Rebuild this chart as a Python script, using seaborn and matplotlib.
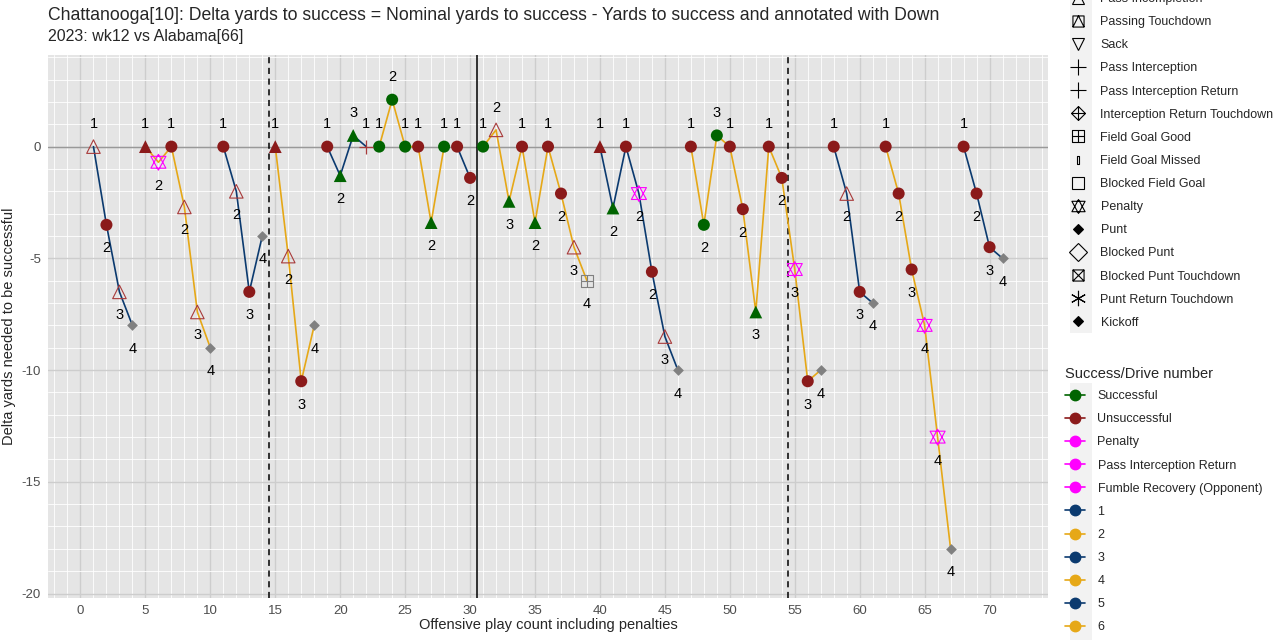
import numpy as np
import pandas as pd
import matplotlib
matplotlib.use("Agg")
import matplotlib.pyplot as plt
from matplotlib.path import Path
from matplotlib.lines import Line2D
from matplotlib.patches import Rectangle
import seaborn as sb

sb.set_style("white")
plt.rcParams["font.family"] = ["Liberation Sans", "DejaVu Sans"]
plt.rcParams["axes.unicode_minus"] = False

# ---- data ----
play = list(range(1, 72))
delta = [0, -3.5, -6.5, -8,
         0, -0.7, 0, -2.7, -7.4, -9,
         0, -2.0, -6.5, -4,
         0, -4.9, -10.5, -8,
         0, -1.3, 0.5, 0,
         0, 2.1, 0, 0, -3.4, 0,
         0, -1.4,
         0, 0.75, -2.45, 0, -3.4, 0, -2.1, -4.5, -6,
         0, -2.75, 0, -2.1, -5.6, -8.5, -10,
         0, -3.5, 0.5, 0, -2.8, -7.4, 0, -1.4, -5.5, -10.5, -10,
         0, -2.1, -6.5, -7,
         0, -2.1, -5.5, -8, -13, -18,
         0, -2.1, -4.5, -5]
down = [1, 2, 3, 4,
        1, 2, 1, 2, 3, 4,
        1, 2, 3, 4,
        1, 2, 3, 4,
        1, 2, 3, 1,
        1, 2, 1, 1, 2, 1,
        1, 2,
        1, 2, 3, 1, 2, 1, 2, 3, 4,
        1, 2, 1, 2, 2, 3, 4,
        1, 2, 3, 1, 2, 3, 1, 2, 3, 3, 4,
        1, 2, 3, 4,
        1, 2, 3, 4, 4, 4,
        1, 2, 3, 4]
drive = ([1] * 4 + [2] * 6 + [3] * 4 + [4] * 4 + [5] * 4 + [6] * 6 + [7] * 2 +
         [8] * 9 + [9] * 7 + [10] * 11 + [11] * 4 + [12] * 6 + [13] * 4)
play_type = ["Pass Incompletion", "Rush", "Pass Incompletion", "Punt",
             "Pass Reception", "Penalty", "Rush", "Pass Incompletion", "Pass Incompletion", "Punt",
             "Rush", "Pass Incompletion", "Rush", "Punt",
             "Pass Reception", "Pass Incompletion", "Rush", "Punt",
             "Rush", "Pass Reception", "Pass Reception", "Pass Interception",
             "Rush", "Rush", "Rush", "Rush", "Pass Reception", "Rush",
             "Rush", "Rush",
             "Rush", "Pass Incompletion", "Pass Reception", "Rush", "Pass Reception", "Rush", "Rush",
             "Pass Incompletion", "Field Goal Good",
             "Pass Reception", "Pass Reception", "Rush", "Penalty", "Rush", "Pass Incompletion", "Punt",
             "Rush", "Rush", "Rush", "Rush", "Rush", "Pass Reception", "Rush", "Rush", "Penalty", "Rush", "Punt",
             "Rush", "Pass Incompletion", "Rush", "Punt",
             "Rush", "Rush", "Rush", "Penalty", "Penalty", "Punt",
             "Rush", "Rush", "Rush", "Punt"]
successful_plays = [20, 21, 23, 24, 25, 27, 28, 31, 33, 35, 41, 48, 49, 52]

df = pd.DataFrame({"play": play, "delta": delta, "down": down,
                   "drive": drive, "type": play_type})
df["success"] = np.where(df["play"].isin(successful_plays), "Successful", "Unsuccessful")
df.loc[df["type"] == "Penalty", "success"] = "Penalty"

navy = "#0b3a6f"
gold = "#e6a817"
red = "#8b1a1a"
green = "#006400"
magenta = "#ff00ff"
grey = "#808080"
drive_pal = {d: (navy if d % 2 == 1 else gold) for d in sorted(df["drive"].unique())}
success_pal = {"Successful": green, "Unsuccessful": red}


# ---- custom marker shapes (ggplot style) ----
def make_path(parts):
    verts, codes = [], []
    for part, closed in parts:
        verts += part
        codes += [Path.MOVETO] + [Path.LINETO] * (len(part) - 1)
        if closed:
            verts.append(part[0])
            codes.append(Path.CLOSEPOLY)
    return Path(verts, codes)


sq = [(-1, -1), (1, -1), (1, 1), (-1, 1)]
star_david = make_path([([(0, 1), (-0.95, -0.75), (0.95, -0.75)], True),
                        ([(0, -1), (-0.95, 0.75), (0.95, 0.75)], True)])
square_plus = make_path([(sq, True), ([(0, -1), (0, 1)], False), ([(-1, 0), (1, 0)], False)])
square_tri = make_path([(sq, True), ([(-1, -1), (0, 1), (1, -1)], False)])
square_x = make_path([(sq, True), ([(-1, -1), (1, 1)], False), ([(-1, 1), (1, -1)], False)])
diamond_plus = make_path([([(0, -1), (1, 0), (0, 1), (-1, 0)], True),
                          ([(0, -1), (0, 1)], False), ([(-1, 0), (1, 0)], False)])
thin_rect = make_path([([(-0.25, -1), (0.25, -1), (0.25, 1), (-0.25, 1)], True)])

# ---- figure ----
fig = plt.figure(figsize=(12.8, 6.4), dpi=100)
ax = fig.add_axes([48 / 1280, 1 - 598 / 640, 1000 / 1280, 543 / 640])
ax.set_facecolor("#e5e5e5")

ax.set_xticks(np.arange(0, 75, 5))
ax.set_xticks(np.arange(-2, 75, 1), minor=True)
ax.set_yticks(np.arange(-20, 1, 5))
ax.set_yticks(np.arange(-20, 5, 1), minor=True)
ax.grid(which="minor", color="white", lw=0.6)
ax.grid(which="major", color="#cdcdcd", lw=1.0)
ax.set_axisbelow(True)
for s in ax.spines.values():
    s.set_visible(False)
ax.tick_params(which="major", length=3, color="#333333", labelsize=9.5, labelcolor="#4d4d4d", pad=2)
ax.tick_params(which="minor", length=0)

ax.axhline(0, color="#999999", lw=1.0, zorder=1)
ax.axvline(14.5, color="black", ls=(0, (4, 3)), lw=1.1, zorder=1)
ax.axvline(30.5, color="black", lw=1.1, zorder=1)
ax.axvline(54.5, color="black", ls=(0, (4, 3)), lw=1.1, zorder=1)

sb.lineplot(data=df, x="play", y="delta", hue="drive", palette=drive_pal, estimator=None,
            sort=False, legend=False, lw=1.2, ax=ax, zorder=2)

rush = df[df["type"] == "Rush"]
sb.scatterplot(data=rush, x="play", y="delta", hue="success", palette=success_pal, marker="o",
               s=75, linewidth=0, legend=False, ax=ax, zorder=3)
rec = df[df["type"] == "Pass Reception"]
sb.scatterplot(data=rec, x="play", y="delta", hue="success", palette=success_pal, marker="^",
               s=85, linewidth=0, legend=False, ax=ax, zorder=3)
inc = df[df["type"] == "Pass Incompletion"]
sb.scatterplot(data=inc, x="play", y="delta", marker="^", s=95, facecolor="none",
               edgecolor="#a83a3a", linewidth=0.8, legend=False, ax=ax, zorder=3)
pen = df[df["type"] == "Penalty"]
sb.scatterplot(data=pen, x="play", y="delta", marker=star_david, s=130, facecolor="none",
               edgecolor=magenta, linewidth=0.8, legend=False, ax=ax, zorder=3)
punt = df[df["type"] == "Punt"]
sb.scatterplot(data=punt, x="play", y="delta", marker="D", s=30, color=grey, linewidth=0,
               legend=False, ax=ax, zorder=3)
fg = df[df["type"] == "Field Goal Good"]
sb.scatterplot(data=fg, x="play", y="delta", marker=square_plus, s=70, facecolor="none",
               edgecolor=grey, linewidth=0.8, legend=False, ax=ax, zorder=3)
inter = df[df["type"] == "Pass Interception"]
sb.scatterplot(data=inter, x="play", y="delta", marker="+", s=110, color="#a83a3a",
               linewidth=0.9, legend=False, ax=ax, zorder=3)

# down annotations: above if on/above zero, below otherwise
for _, r in df.iterrows():
    off = 1.0 if r["delta"] >= 0 else -1.05
    ax.text(r["play"], r["delta"] + off, str(r["down"]), ha="center", va="center",
            fontsize=10.5, color="black", zorder=4)

ax.set_xlim(-2.5, 74.5)
ax.set_ylim(-20.2, 4.1)
ax.set_xlabel("Offensive play count including penalties", fontsize=10.5, labelpad=1)
ax.set_ylabel("Delta yards needed to be successful", fontsize=10.5, labelpad=4)

fig.text(48 / 1280, 1 - 15 / 640,
         "Chattanooga[10]: Delta yards to success = Nominal yards to success - Yards to success and annotated with Down",
         fontsize=12.7, va="center", ha="left")
fig.text(48 / 1280, 1 - 37 / 640, "2023: wk12 vs Alabama[66]", fontsize=11.5, va="center", ha="left")

# ---- legends ----
fig.patches.append(Rectangle((1070 / 1280, 1 - 333 / 640), 22 / 1280, 333 / 640,
                             transform=fig.transFigure, facecolor="#f2f2f2", edgecolor="none", zorder=0))
fig.patches.append(Rectangle((1070 / 1280, 0), 22 / 1280, 1 - 383 / 640,
                             transform=fig.transFigure, facecolor="#f2f2f2", edgecolor="none", zorder=0))

type_labels = ["Pass Incompletion", "Passing Touchdown", "Sack", "Pass Interception",
               "Pass Interception Return", "Interception Return Touchdown", "Field Goal Good",
               "Field Goal Missed", "Blocked Field Goal", "Penalty", "Punt", "Blocked Punt",
               "Blocked Punt Touchdown", "Punt Return Touchdown", "Kickoff"]
type_markers = ["^", square_tri, "v", "+", "+", diamond_plus, square_plus, thin_rect, "s",
                star_david, "D", "D", square_x, "*", "D"]
type_filled = [False, False, False, True, True, False, False, False, False, False,
               True, False, False, True, True]
type_sizes = [9, 8, 9, 11, 11, 10, 8, 6, 8, 10, 5, 9, 8, 11, 5]
type_handles = []
for m, f, ms in zip(type_markers, type_filled, type_sizes):
    if m == "*":
        m = (6, 2, 0)
    type_handles.append(Line2D([], [], ls="none", marker=m, markersize=ms, color="black",
                               markerfacecolor="black" if f else "none", markeredgewidth=0.8))
leg1 = fig.legend(type_handles, type_labels, loc="upper left",
                  bbox_to_anchor=(1063 / 1280, 1 + 12 / 640), frameon=False, fontsize=9,
                  handlelength=1.6, handletextpad=1.0, labelspacing=0.89, borderaxespad=0)

succ_labels = ["Successful", "Unsuccessful", "Penalty", "Pass Interception Return",
               "Fumble Recovery (Opponent)", "1", "2", "3", "4", "5", "6"]
succ_colors = [green, red, magenta, magenta, magenta, navy, gold, navy, gold, navy, gold]
succ_handles = [Line2D([], [], color=c, marker="o", markersize=7.5, lw=1.2) for c in succ_colors]
leg2 = fig.legend(succ_handles, succ_labels, loc="upper left", title="Success/Drive number",
                  bbox_to_anchor=(1060 / 1280, 1 - 360 / 640), frameon=False, fontsize=9,
                  title_fontsize=10.5, handlelength=1.6, handletextpad=1.0, labelspacing=0.89,
                  borderaxespad=0, alignment="left")
leg2.get_title().set_position((0, -2))

plt.savefig("out.png", dpi=100)
